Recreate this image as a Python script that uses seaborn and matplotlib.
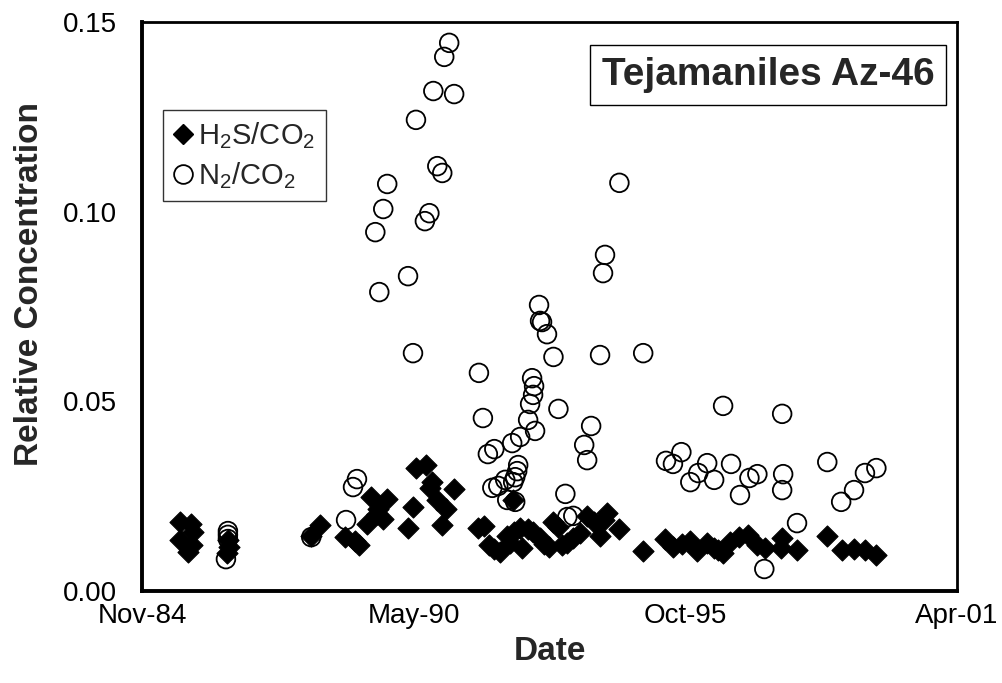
import numpy as np
import pandas as pd
import matplotlib
matplotlib.use("Agg")
import matplotlib.pyplot as plt
import matplotlib.dates as mdates
from matplotlib.lines import Line2D
import seaborn as sns

# ---- data (decimal years, relative concentration) ----
h2s_year = [1985.63, 1985.85, 1985.89, 1985.63, 1985.87, 1985.79, 1986.59, 1986.61, 1986.57,
            1988.27, 1988.45, 1988.95, 1989.15, 1989.23, 1989.40, 1989.48, 1989.60, 1989.62,
            1989.72, 1989.80, 1990.22, 1990.32, 1990.38, 1990.59, 1990.67, 1990.71, 1990.81,
            1990.91, 1990.99, 1991.15, 1991.63, 1991.75, 1991.85, 1991.96, 1992.08, 1992.22,
            1992.28, 1992.34, 1992.36, 1992.48, 1992.52, 1992.64, 1992.74, 1992.88, 1992.96,
            1993.06, 1993.15, 1993.25, 1993.33, 1993.43, 1993.55, 1993.69, 1993.83, 1993.97,
            1994.09, 1994.17, 1994.23, 1994.48, 1994.96, 1995.40, 1995.56, 1995.75, 1995.91,
            1996.05, 1996.25, 1996.39, 1996.47, 1996.57, 1996.71, 1996.89, 1997.08, 1997.26,
            1997.42, 1997.76, 1997.74, 1998.06, 1998.67, 1998.97, 1999.21, 1999.43, 1999.66]
h2s_value = [0.0182, 0.0177, 0.0156, 0.0134, 0.0121, 0.0103, 0.0134, 0.0116, 0.0100,
             0.0145, 0.0174, 0.0142, 0.0132, 0.0121, 0.0177, 0.0248, 0.0203, 0.0216,
             0.0190, 0.0243, 0.0166, 0.0221, 0.0324, 0.0332, 0.0272, 0.0287, 0.0240,
             0.0174, 0.0216, 0.0269, 0.0166, 0.0171, 0.0121, 0.0111, 0.0103, 0.0145,
             0.0127, 0.0240, 0.0156, 0.0166, 0.0113, 0.0163, 0.0156, 0.0140, 0.0124,
             0.0116, 0.0182, 0.0169, 0.0121, 0.0127, 0.0140, 0.0153, 0.0198, 0.0182,
             0.0145, 0.0187, 0.0206, 0.0163, 0.0105, 0.0137, 0.0116, 0.0124, 0.0132,
             0.0105, 0.0127, 0.0113, 0.0108, 0.0100, 0.0129, 0.0142, 0.0148, 0.0121,
             0.0113, 0.0140, 0.0113, 0.0108, 0.0145, 0.0108, 0.0111, 0.0108, 0.0094]

n2_year = [1986.55, 1986.59, 1986.59, 1986.59, 1988.27, 1988.97, 1989.11, 1989.19, 1989.56,
           1989.64, 1989.72, 1989.80, 1990.22, 1990.32, 1990.38, 1990.56, 1990.65, 1990.73,
           1990.81, 1990.91, 1990.95, 1991.05, 1991.15, 1991.65, 1991.73, 1991.83, 1991.92,
           1991.96, 1992.04, 1992.18, 1992.22, 1992.32, 1992.34, 1992.38, 1992.38, 1992.42,
           1992.44, 1992.48, 1992.64, 1992.68, 1992.74, 1992.76, 1992.72, 1992.78, 1992.86,
           1992.88, 1992.92, 1993.02, 1993.15, 1993.25, 1993.39, 1993.43, 1993.55, 1993.77,
           1993.83, 1993.91, 1994.09, 1994.15, 1994.19, 1994.48, 1994.96, 1995.42, 1995.56,
           1995.73, 1995.91, 1996.07, 1996.25, 1996.39, 1996.57, 1996.73, 1996.91, 1997.10,
           1997.26, 1997.40, 1997.76, 1997.78, 1997.76, 1998.06, 1998.67, 1998.95, 1999.21,
           1999.43, 1999.66]
n2_value = [0.0084, 0.0158, 0.0148, 0.0137, 0.0142, 0.0187, 0.0274, 0.0295, 0.0946,
            0.0788, 0.1007, 0.1073, 0.0830, 0.0627, 0.1242, 0.0975, 0.0996, 0.1318,
            0.1120, 0.1102, 0.1408, 0.1445, 0.1310, 0.0575, 0.0456, 0.0361, 0.0272,
            0.0374, 0.0277, 0.0293, 0.0240, 0.0390, 0.0287, 0.0300, 0.0235, 0.0316,
            0.0332, 0.0406, 0.0451, 0.0493, 0.0517, 0.0540, 0.0561, 0.0422, 0.0754,
            0.0712, 0.0709, 0.0677, 0.0617, 0.0480, 0.0256, 0.0195, 0.0198, 0.0385,
            0.0345, 0.0435, 0.0622, 0.0838, 0.0886, 0.1076, 0.0627, 0.0343, 0.0335,
            0.0366, 0.0287, 0.0311, 0.0337, 0.0293, 0.0488, 0.0335, 0.0253, 0.0298,
            0.0308, 0.0058, 0.0266, 0.0308, 0.0467, 0.0179, 0.0340, 0.0235, 0.0266,
            0.0311, 0.0324]

y_ticks = [0.00, 0.05, 0.10, 0.15]
x_start = "1984-11-10"
x_step_days = 2000
title_text = "Tejamaniles Az-46"
h2s_label = r"$\mathregular{H_2S/CO_2}$"
n2_label = r"$\mathregular{N_2/CO_2}$"


def to_date(years):
    out = []
    for y in years:
        yr = int(y)
        frac = y - yr
        start = pd.Timestamp(year=yr, month=1, day=1)
        days = (pd.Timestamp(year=yr + 1, month=1, day=1) - start).days
        out.append(start + pd.Timedelta(days=frac * days))
    return out


h2s = pd.DataFrame({"Date": to_date(h2s_year), "Value": h2s_value})
n2 = pd.DataFrame({"Date": to_date(n2_year), "Value": n2_value})

sns.set_style("white")
plt.rcParams["font.family"] = ["Liberation Sans", "DejaVu Sans"]
plt.rcParams["mathtext.fontset"] = "custom"
plt.rcParams["mathtext.rm"] = "Liberation Sans"
plt.rcParams["mathtext.it"] = "Liberation Sans:italic"
plt.rcParams["mathtext.bf"] = "Liberation Sans:bold"
plt.rcParams["mathtext.default"] = "regular"

fig = plt.figure(figsize=(10.03, 6.83), dpi=100)
ax = fig.add_axes([0.1416, 0.1347, 0.8126, 0.8331])

sns.scatterplot(data=h2s, x="Date", y="Value", ax=ax, marker="D", s=115,
                color="black", edgecolor="black", linewidth=0.8, legend=False, zorder=3)
sns.scatterplot(data=n2, x="Date", y="Value", ax=ax, marker="o", s=180,
                facecolor="none", edgecolor="black", linewidth=1.3, legend=False, zorder=4)

x0 = pd.Timestamp(x_start)
xt = [x0 + pd.Timedelta(days=k * x_step_days) for k in range(4)]
ax.set_xlim(xt[0], xt[-1])
ax.set_xticks(xt)
ax.xaxis.set_major_formatter(mdates.DateFormatter("%b-%y"))
ax.set_ylim(y_ticks[0], y_ticks[-1])
ax.set_yticks(y_ticks)
ax.set_yticklabels([f"{v:.2f}" for v in y_ticks])

for side in ["left", "bottom"]:
    ax.spines[side].set_linewidth(2.8)
for side in ["top", "right"]:
    ax.spines[side].set_linewidth(2.0)
for sp in ax.spines.values():
    sp.set_color("black")
    sp.set_visible(True)

ax.tick_params(axis="both", direction="in", length=5, width=2, color="black",
               labelsize=20, labelcolor="black")
ax.tick_params(axis="y", pad=18)
ax.tick_params(axis="x", pad=9)

ax.set_xlabel("Date", fontsize=24, fontweight="bold", va="center")
ax.set_ylabel("Relative Concentration", fontsize=24, fontweight="bold", va="center")
ax.xaxis.set_label_coords(0.5, -0.107)
ax.yaxis.set_label_coords(-0.1375, 0.54)

ax.text(0.768, 0.907, title_text, transform=ax.transAxes, ha="center", va="center",
        fontsize=28, fontweight="bold", zorder=6,
        bbox=dict(boxstyle="square,pad=0.3", facecolor="white", edgecolor="black", linewidth=1.0))

handles = [
    Line2D([], [], linestyle="none", marker="D", markersize=10, markerfacecolor="black",
           markeredgecolor="black"),
    Line2D([], [], linestyle="none", marker="o", markersize=13.5, markerfacecolor="none",
           markeredgecolor="black", markeredgewidth=1.3),
]
leg = ax.legend(handles, [h2s_label, n2_label], loc="upper left", bbox_to_anchor=(0.026, 0.845),
                borderaxespad=0, frameon=True, fancybox=False, fontsize=21,
                handlelength=0.65, handletextpad=0.2, borderpad=0.35, labelspacing=0.3)
leg.get_frame().set_edgecolor("black")
leg.get_frame().set_linewidth(1.0)
leg.set_zorder(7)

fig.savefig("out.png", dpi=100, facecolor="white")
